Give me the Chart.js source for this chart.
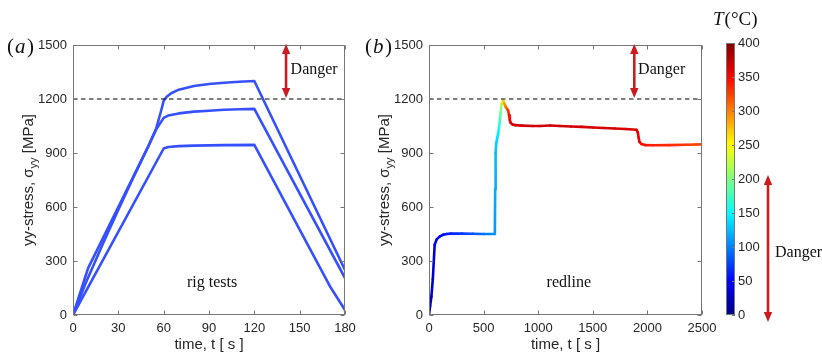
<!DOCTYPE html>
<html><head><meta charset="utf-8">
<script src="https://cdn.jsdelivr.net/npm/chart.js@4/dist/chart.umd.min.js"></script>
<style>
html,body{margin:0;padding:0;background:#fff;}
#wrap{position:relative;width:822px;height:356px;overflow:hidden;background:#fff;}
canvas{position:absolute;left:0;top:0;}
</style></head><body>
<div id="wrap">
<canvas id="cA" width="822" height="356"></canvas>
<canvas id="cB" width="822" height="356"></canvas>
<canvas id="cC" width="822" height="356"></canvas>
</div>
<script>
// ---------- DATA ----------
// (a) rig tests: three load cycles
const rigTime1   = [0, 10, 20, 30, 40, 50, 55, 58, 60, 62, 65, 70, 80, 90, 100, 110, 120, 180];
const rigStress1 = [0, 260, 430, 600, 770, 940, 1035, 1125, 1190, 1212, 1232, 1252, 1272, 1283, 1290, 1296, 1300, 250];
const rigTime2   = [0, 8, 20, 30, 40, 50, 55, 60, 63, 70, 80, 90, 100, 110, 120, 180];
const rigStress2 = [0, 170, 400, 585, 765, 940, 1030, 1095, 1108, 1120, 1130, 1135, 1140, 1143, 1145, 205];
const rigTime3   = [0, 60, 63, 70, 80, 100, 120, 170, 180];
const rigStress3 = [0, 925, 933, 938, 941, 944, 945, 160, 28];
// (b) redline: stress and temperature
const redTime   = [0, 10, 22, 35, 52, 70, 100, 130, 160, 200, 300, 400, 500, 600, 603, 606, 610, 615, 625, 634, 645, 655, 664, 679, 692, 703, 715, 725, 733, 740, 748, 765, 787, 850, 950, 1016, 1108, 1200, 1300, 1400, 1500, 1600, 1700, 1800, 1900, 1912, 1920, 1927, 1945, 1980, 2050, 2200, 2350, 2500];
const redStress = [0, 50, 103, 200, 390, 420, 437, 446, 450, 452, 452, 451, 450, 450, 452, 700, 900, 950, 985, 1010, 1060, 1120, 1170, 1190, 1172, 1156, 1145, 1135, 1110, 1083, 1068, 1058, 1055, 1052, 1050, 1050, 1053, 1050, 1047, 1045, 1042, 1039, 1036, 1033, 1029, 1015, 985, 962, 950, 944, 943, 944, 946, 948];
const redTemp   = [20, 25, 30, 35, 40, 45, 50, 55, 58, 62, 72, 82, 95, 108, 110, 118, 125, 130, 138, 145, 165, 190, 215, 265, 290, 305, 320, 332, 342, 352, 358, 362, 365, 367, 368, 368, 368, 368, 367, 367, 366, 366, 365, 365, 364, 360, 355, 350, 345, 342, 338, 333, 328, 322];
// limits / ticks
const dangerLimit = 1200;
const yTicks  = [0, 300, 600, 900, 1200, 1500];
const xTicksA = [0, 30, 60, 90, 120, 150, 180];
const xTicksB = [0, 500, 1000, 1500, 2000, 2500];
const cbTicks = [0, 50, 100, 150, 200, 250, 300, 350, 400];

// ---------- HELPERS ----------
const AX = '#262626', BOX = '#777777', LINE = '#3550ff', RED = '#cc1a1f';
const SANS = "'Liberation Sans', Arial, Helvetica, sans-serif";
const SERIF = "'Liberation Serif', 'Times New Roman', serif";
function clamp(v){ return Math.max(0, Math.min(1, v)); }
function jet(T){
  const v = clamp(T / 400);
  const r = clamp(1.5 - Math.abs(4*v - 3)), g = clamp(1.5 - Math.abs(4*v - 2)), b = clamp(1.5 - Math.abs(4*v - 1));
  return 'rgb(' + Math.round(r*255) + ',' + Math.round(g*255) + ',' + Math.round(b*255) + ')';
}
function pts(xs, ys){ return xs.map((x, i) => ({x: x, y: ys[i]})); }
function dArrow(ctx, x, y1, y2){
  const hl = 10, hw = 4.2;
  ctx.save();
  ctx.strokeStyle = RED; ctx.fillStyle = RED; ctx.lineWidth = 2.6;
  ctx.beginPath(); ctx.moveTo(x, y1 + hl - 1); ctx.lineTo(x, y2 - hl + 1); ctx.stroke();
  ctx.beginPath(); ctx.moveTo(x, y1); ctx.lineTo(x - hw, y1 + hl); ctx.lineTo(x + hw, y1 + hl); ctx.closePath(); ctx.fill();
  ctx.beginPath(); ctx.moveTo(x, y2); ctx.lineTo(x - hw, y2 - hl); ctx.lineTo(x + hw, y2 - hl); ctx.closePath(); ctx.fill();
  ctx.restore();
}
function yTitle(ctx, cx, cy){
  const main = '15px ' + SANS, sub = '11px ' + SANS;
  const p1 = 'yy-stress, \u03c3', p2 = 'yy', p3 = ' [MPa]';
  ctx.save();
  ctx.font = main; const w1 = ctx.measureText(p1).width, w3 = ctx.measureText(p3).width;
  ctx.font = sub; const w2 = ctx.measureText(p2).width;
  const tw = w1 + w2 + w3;
  ctx.translate(cx, cy); ctx.rotate(-Math.PI/2);
  ctx.fillStyle = AX; ctx.textBaseline = 'alphabetic'; ctx.textAlign = 'left';
  let x = -tw/2;
  ctx.font = main; ctx.fillText(p1, x, 5); x += w1;
  ctx.font = sub; ctx.fillText(p2, x, 9); x += w2;
  ctx.font = main; ctx.fillText(p3, x, 5);
  ctx.restore();
}
function panelLabel(ctx, x, y, letter){
  ctx.save();
  ctx.fillStyle = '#111'; ctx.textBaseline = 'middle'; ctx.textAlign = 'left';
  ctx.font = '21px ' + SERIF; ctx.fillText('(', x, y); x += ctx.measureText('(').width + 1;
  ctx.font = 'italic 21px ' + SERIF; ctx.fillText(letter, x, y); x += ctx.measureText(letter).width + 1.5;
  ctx.font = '21px ' + SERIF; ctx.fillText(')', x, y);
  ctx.restore();
}
function serifText(ctx, txt, x, y, align){
  ctx.save(); ctx.fillStyle = '#111'; ctx.font = '16px ' + SERIF;
  ctx.textAlign = align || 'left'; ctx.textBaseline = 'middle'; ctx.fillText(txt, x, y); ctx.restore();
}
const framePlugin = {
  id: 'frame',
  afterDraw(chart){
    const {ctx, chartArea: a, scales} = chart;
    ctx.save();
    ctx.strokeStyle = BOX; ctx.lineWidth = 1;
    const L = Math.round(a.left)+0.5, R = Math.round(a.right)-0.5, T = Math.round(a.top)+0.5, B = Math.round(a.bottom)-0.5;
    ctx.strokeRect(L, T, R-L, B-T);
    ctx.beginPath();
    scales.x.ticks.forEach(t => { const p = Math.round(scales.x.getPixelForValue(t.value))+0.5;
      ctx.moveTo(p, B); ctx.lineTo(p, B-4); ctx.moveTo(p, T); ctx.lineTo(p, T+4); });
    scales.y.ticks.forEach(t => { const p = Math.round(scales.y.getPixelForValue(t.value))+0.5;
      ctx.moveTo(L, p); ctx.lineTo(L+4, p); ctx.moveTo(R, p); ctx.lineTo(R-4, p); });
    ctx.stroke();
    ctx.restore();
  }
};
function axisOpts(min, max, ticksArr, isX, fixed){
  return {
    type: 'linear', min: min, max: max,
    afterBuildTicks: s => { s.ticks = ticksArr.map(v => ({value: v})); },
    afterFit: s => { if (isX) s.height = fixed; else s.width = fixed; },
    grid: {display: false, drawTicks: false},
    border: {display: false},
    ticks: {color: AX, font: {family: SANS, size: 13}, padding: 6, autoSkip: false, maxRotation: 0,
            callback: v => String(v)},
    title: isX ? {display: true, text: 'time, t [ s ]', color: AX, font: {family: SANS, size: 15}, padding: {top: 0, bottom: 2}} : {display: false}
  };
}
const common = {responsive: false, devicePixelRatio: 1, animation: false, events: [],
  plugins: {legend: {display: false}, tooltip: {enabled: false}}};
const dashDs = (x1) => ({data: pts([0, x1], [dangerLimit, dangerLimit]), borderColor: '#000', borderWidth: 1.1, borderDash: [4.5, 3.5], pointRadius: 0});

// ---------- CHART (a) ----------
const lineDs = (xs, ys) => ({data: pts(xs, ys), borderColor: LINE, borderWidth: 2.6, pointRadius: 0, tension: 0,
  borderJoinStyle: 'round', borderCapStyle: 'round'});
new Chart(document.getElementById('cA'), {
  type: 'line',
  data: {datasets: [dashDs(180), lineDs(rigTime3, rigStress3), lineDs(rigTime2, rigStress2), lineDs(rigTime1, rigStress1)]},
  options: Object.assign({}, common, {
    layout: {padding: {left: 0, right: 477, top: 45, bottom: 0}},
    scales: {x: axisOpts(0, 180, xTicksA, true, 41), y: axisOpts(0, 1500, yTicks, false, 73)}
  }),
  plugins: [framePlugin, {id: 'decoA', afterDraw(chart){
    const {ctx, scales: {x, y}, chartArea: a} = chart;
    yTitle(ctx, a.left - 45, (a.top + a.bottom)/2);
    panelLabel(ctx, 7, 47, 'a');
    dArrow(ctx, x.getPixelForValue(141), a.top - 1, y.getPixelForValue(dangerLimit) - 1);
    serifText(ctx, 'Danger', x.getPixelForValue(144), 70, 'left');
    serifText(ctx, 'rig tests', x.getPixelForValue(92), y.getPixelForValue(180), 'center');
  }}]
});

// ---------- CHART (b) ----------
let chartB = null;
chartB = new Chart(document.getElementById('cB'), {
  type: 'line',
  data: {datasets: [
    dashDs(2500),
    {data: pts(redTime, redStress), borderWidth: 2.6, pointRadius: 0, tension: 0, borderColor: jet(360),
     borderJoinStyle: 'round', borderCapStyle: 'round',
     segment: {borderColor: c => {
       const t0 = redTemp[c.p0DataIndex], t1 = redTemp[c.p1DataIndex];
       try {
         const cx = (c.chart || chartB).ctx;
         const dx = c.p1.x - c.p0.x, dy = c.p1.y - c.p0.y;
         if (!isFinite(dx) || !isFinite(dy) || Math.hypot(dx, dy) < 0.5) return jet((t0 + t1)/2);
         const g = cx.createLinearGradient(c.p0.x, c.p0.y, c.p1.x, c.p1.y);
         g.addColorStop(0, jet(t0)); g.addColorStop(1, jet(t1));
         return g;
       } catch (e) { return jet((t0 + t1)/2); }
     }}}
  ]},
  options: Object.assign({}, common, {
    layout: {padding: {left: 360, right: 120, top: 45, bottom: 0}},
    scales: {x: axisOpts(0, 2500, xTicksB, true, 41), y: axisOpts(0, 1500, yTicks, false, 69)}
  }),
  plugins: [framePlugin, {id: 'decoB', afterDraw(chart){
    const {ctx, scales: {x, y}, chartArea: a} = chart;
    yTitle(ctx, a.left - 45, (a.top + a.bottom)/2);
    panelLabel(ctx, 365, 47, 'b');
    dArrow(ctx, x.getPixelForValue(1880), a.top - 1, y.getPixelForValue(dangerLimit) - 1);
    serifText(ctx, 'Danger', x.getPixelForValue(1915), 70, 'left');
    serifText(ctx, 'redline', x.getPixelForValue(1280), y.getPixelForValue(180), 'center');
  }}]
});

// ---------- COLORBAR ----------
new Chart(document.getElementById('cC'), {
  type: 'scatter',
  data: {datasets: [{data: []}]},
  options: Object.assign({}, common, {
    layout: {padding: {left: 726, right: 37, top: 43, bottom: 41}},
    scales: {
      x: {display: false, min: 0, max: 1},
      y: {type: 'linear', position: 'right', min: 0, max: 400,
          afterBuildTicks: s => { s.ticks = cbTicks.map(v => ({value: v})); },
          afterFit: s => { s.width = 50; },
          grid: {display: false, drawTicks: false}, border: {display: false},
          ticks: {color: AX, font: {family: SANS, size: 13}, padding: 3, callback: v => String(v)}}
    }
  }),
  plugins: [{id: 'cbar', beforeDatasetsDraw(chart){
    const {ctx, chartArea: a, scales: {y}} = chart;
    const y0 = y.getPixelForValue(0), y1 = y.getPixelForValue(400);
    const g = ctx.createLinearGradient(0, y0, 0, y1);
    for (let i = 0; i <= 40; i++) g.addColorStop(i/40, jet(i*10));
    ctx.save(); ctx.fillStyle = g; ctx.fillRect(a.left, y1, a.right - a.left, y0 - y1);
    ctx.strokeStyle = BOX; ctx.lineWidth = 1;
    ctx.strokeRect(Math.round(a.left)+0.5, Math.round(y1)+0.5, Math.round(a.right-a.left)-1, Math.round(y0-y1)-1);
    ctx.beginPath();
    y.ticks.forEach(t => { const p = Math.round(y.getPixelForValue(t.value))+0.5; ctx.moveTo(a.right, p); ctx.lineTo(a.right-3, p); });
    ctx.stroke();
    ctx.restore();
  }, afterDraw(chart){
    const {ctx} = chart;
    ctx.save(); ctx.fillStyle = '#111'; ctx.textBaseline = 'middle'; ctx.textAlign = 'left';
    ctx.font = 'italic 19px ' + SERIF; ctx.fillText('T', 713, 20);
    const w = ctx.measureText('T').width;
    ctx.font = '19px ' + SERIF; ctx.fillText('(\u00b0C)', 713 + w + 1, 20);
    ctx.restore();
    dArrow(ctx, 768, 175, 322);
    serifText(ctx, 'Danger', 775, 253, 'left');
  }}]
});
</script>
</body></html>
